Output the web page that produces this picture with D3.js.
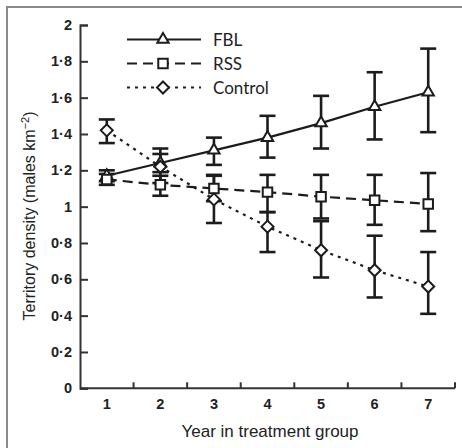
<!DOCTYPE html>
<html>
<head>
<meta charset="utf-8">
<script src="https://cdn.jsdelivr.net/npm/d3@7"></script>
<style>
  html, body { margin: 0; padding: 0; background: #fff; }
  svg { display: block; }
</style>
</head>
<body>
<svg id="chart" width="462" height="448"></svg>
<script>
// Year in treatment group
const years = [1, 2, 3, 4, 5, 6, 7];
const yTicks = [0, 0.2, 0.4, 0.6, 0.8, 1, 1.2, 1.4, 1.6, 1.8, 2];

// Territory density (males per km²): mean with lower / upper error limits
const fblMean  = [1.17, 1.24, 1.31, 1.38, 1.46, 1.55, 1.63];
const fblLow   = [1.14, 1.19, 1.23, 1.27, 1.32, 1.37, 1.41];
const fblHigh  = [1.20, 1.29, 1.38, 1.50, 1.61, 1.74, 1.87];

const rssMean  = [1.15, 1.12, 1.10, 1.08, 1.055, 1.035, 1.015];
const rssLow   = [1.12, 1.06, 1.03, 0.97, 0.935, 0.90, 0.865];
const rssHigh  = [1.18, 1.17, 1.175, 1.175, 1.175, 1.175, 1.185];

const ctlMean  = [1.42, 1.22, 1.04, 0.89, 0.76, 0.65, 0.56];
const ctlLow   = [1.35, 1.13, 0.91, 0.75, 0.61, 0.50, 0.41];
const ctlHigh  = [1.48, 1.32, 1.17, 0.97, 0.92, 0.84, 0.75];

const seriesNames = ["FBL", "RSS", "Control"];

const series = [
  { name: seriesNames[0], mean: fblMean, low: fblLow, high: fblHigh, dash: null, symbol: "triangle" },
  { name: seriesNames[1], mean: rssMean, low: rssLow, high: rssHigh, dash: "10,6", symbol: "square" },
  { name: seriesNames[2], mean: ctlMean, low: ctlLow, high: ctlHigh, dash: "3,5", symbol: "diamond" }
];

const svg = d3.select("#chart");
const ink = "#1c1c1c";
const tickFont = "'Liberation Sans', Arial, sans-serif";

// outer frame (left and top edges)
svg.append("path")
  .attr("d", "M7,448 V7 H462")
  .attr("fill", "none")
  .attr("stroke", "#8a8a8a")
  .attr("stroke-width", 2);

const x = d3.scaleBand().domain(years).range([80, 455]).paddingInner(0).paddingOuter(0);
const y = d3.scaleLinear().domain([0, 2]).range([388.3, 25]);
const cx = d => x(d) + x.bandwidth() / 2;

// y axis
const yAxis = svg.append("g")
  .attr("transform", "translate(80,0)")
  .call(d3.axisLeft(y).tickValues(yTicks).tickSize(-8).tickPadding(8)
    .tickFormat(d => d === 0 || d === 1 || d === 2 ? String(d) : d3.format(".1f")(d).replace(".", "·")));
yAxis.select(".domain").attr("stroke", "#333").attr("stroke-width", 2);
yAxis.selectAll(".tick line").attr("stroke", "#333").attr("stroke-width", 2);
yAxis.selectAll(".tick text")
  .attr("fill", "#222")
  .style("font-family", tickFont)
  .style("font-size", "14.5px")
  .style("font-weight", "bold");

// x axis: ticks sit between the year groups
const xAxis = svg.append("g")
  .attr("transform", "translate(0,388.3)");
xAxis.append("line")
  .attr("x1", 80).attr("x2", 455)
  .attr("stroke", "#333").attr("stroke-width", 2);
xAxis.selectAll(".sep")
  .data(years)
  .join("line")
  .attr("class", "sep")
  .attr("x1", d => x(d) + x.bandwidth()).attr("x2", d => x(d) + x.bandwidth())
  .attr("y1", 0).attr("y2", -6)
  .attr("stroke", "#333").attr("stroke-width", 2);
xAxis.selectAll(".lab")
  .data(years)
  .join("text")
  .attr("class", "lab")
  .attr("x", d => cx(d))
  .attr("y", 21)
  .attr("text-anchor", "middle")
  .attr("fill", "#222")
  .style("font-family", tickFont)
  .style("font-size", "14.5px")
  .style("font-weight", "bold")
  .text(d => d);

// axis titles
svg.append("text")
  .attr("x", 270).attr("y", 437)
  .attr("text-anchor", "middle")
  .attr("fill", "#222")
  .style("font-family", tickFont)
  .style("font-size", "17px")
  .text("Year in treatment group");

const yt = svg.append("text")
  .attr("transform", "translate(35,216) rotate(-90)")
  .attr("text-anchor", "middle")
  .attr("fill", "#222")
  .style("font-family", tickFont)
  .style("font-size", "16px");
yt.append("tspan").text("Territory density (males km");
yt.append("tspan").attr("dy", -6).style("font-size", "11px").text("−2");
yt.append("tspan").attr("dy", 6).text(")");

// series lines
const line = d3.line().x((d, i) => cx(years[i])).y(d => y(d));
series.forEach(s => {
  svg.append("path")
    .datum(s.mean)
    .attr("d", line)
    .attr("fill", "none")
    .attr("stroke", ink)
    .attr("stroke-width", 2.2)
    .attr("stroke-dasharray", s.dash);
});

// error bars
const capHalf = 8;
series.forEach(s => {
  const g = svg.append("g").attr("stroke", ink).attr("stroke-width", 2.6);
  years.forEach((yr, i) => {
    const px = cx(yr);
    g.append("line").attr("x1", px).attr("x2", px).attr("y1", y(s.low[i])).attr("y2", y(s.high[i]));
    g.append("line").attr("x1", px - capHalf).attr("x2", px + capHalf).attr("y1", y(s.low[i])).attr("y2", y(s.low[i]));
    g.append("line").attr("x1", px - capHalf).attr("x2", px + capHalf).attr("y1", y(s.high[i])).attr("y2", y(s.high[i]));
  });
});

// markers (open symbols)
const diamondShape = { draw(ctx, size) { const r = Math.sqrt(size / 2); ctx.moveTo(0, -r); ctx.lineTo(r, 0); ctx.lineTo(0, r); ctx.lineTo(-r, 0); ctx.closePath(); } };
const symbols = {
  triangle: d3.symbol().type(d3.symbolTriangle).size(56),
  square: d3.symbol().type(d3.symbolSquare).size(90),
  diamond: d3.symbol().type(diamondShape).size(72)
};
function drawMarker(g, kind, px, py) {
  g.append("path")
    .attr("d", symbols[kind]())
    .attr("transform", `translate(${px},${py})`)
    .attr("fill", "#fff")
    .attr("stroke", ink)
    .attr("stroke-width", 2);
}
series.forEach(s => {
  const g = svg.append("g");
  years.forEach((yr, i) => drawMarker(g, s.symbol, cx(yr), y(s.mean[i])));
});

// legend
const legend = svg.append("g");
legend.append("rect")
  .attr("x", 205).attr("y", 24).attr("width", 70).attr("height", 72)
  .attr("fill", "#fff");
series.forEach((s, i) => {
  const ly = 39.5 + i * 24;
  legend.append("line")
    .attr("x1", 127).attr("x2", 201).attr("y1", ly).attr("y2", ly)
    .attr("stroke", ink).attr("stroke-width", 2.2)
    .attr("stroke-dasharray", s.dash);
  drawMarker(legend, s.symbol, 163, ly);
  legend.append("text")
    .attr("x", 213).attr("y", ly + 6)
    .attr("fill", "#222")
    .style("font-family", "Lato, 'Open Sans', sans-serif")
    .style("font-size", "17px")
    .text(s.name);
});
</script>
</body>
</html>
